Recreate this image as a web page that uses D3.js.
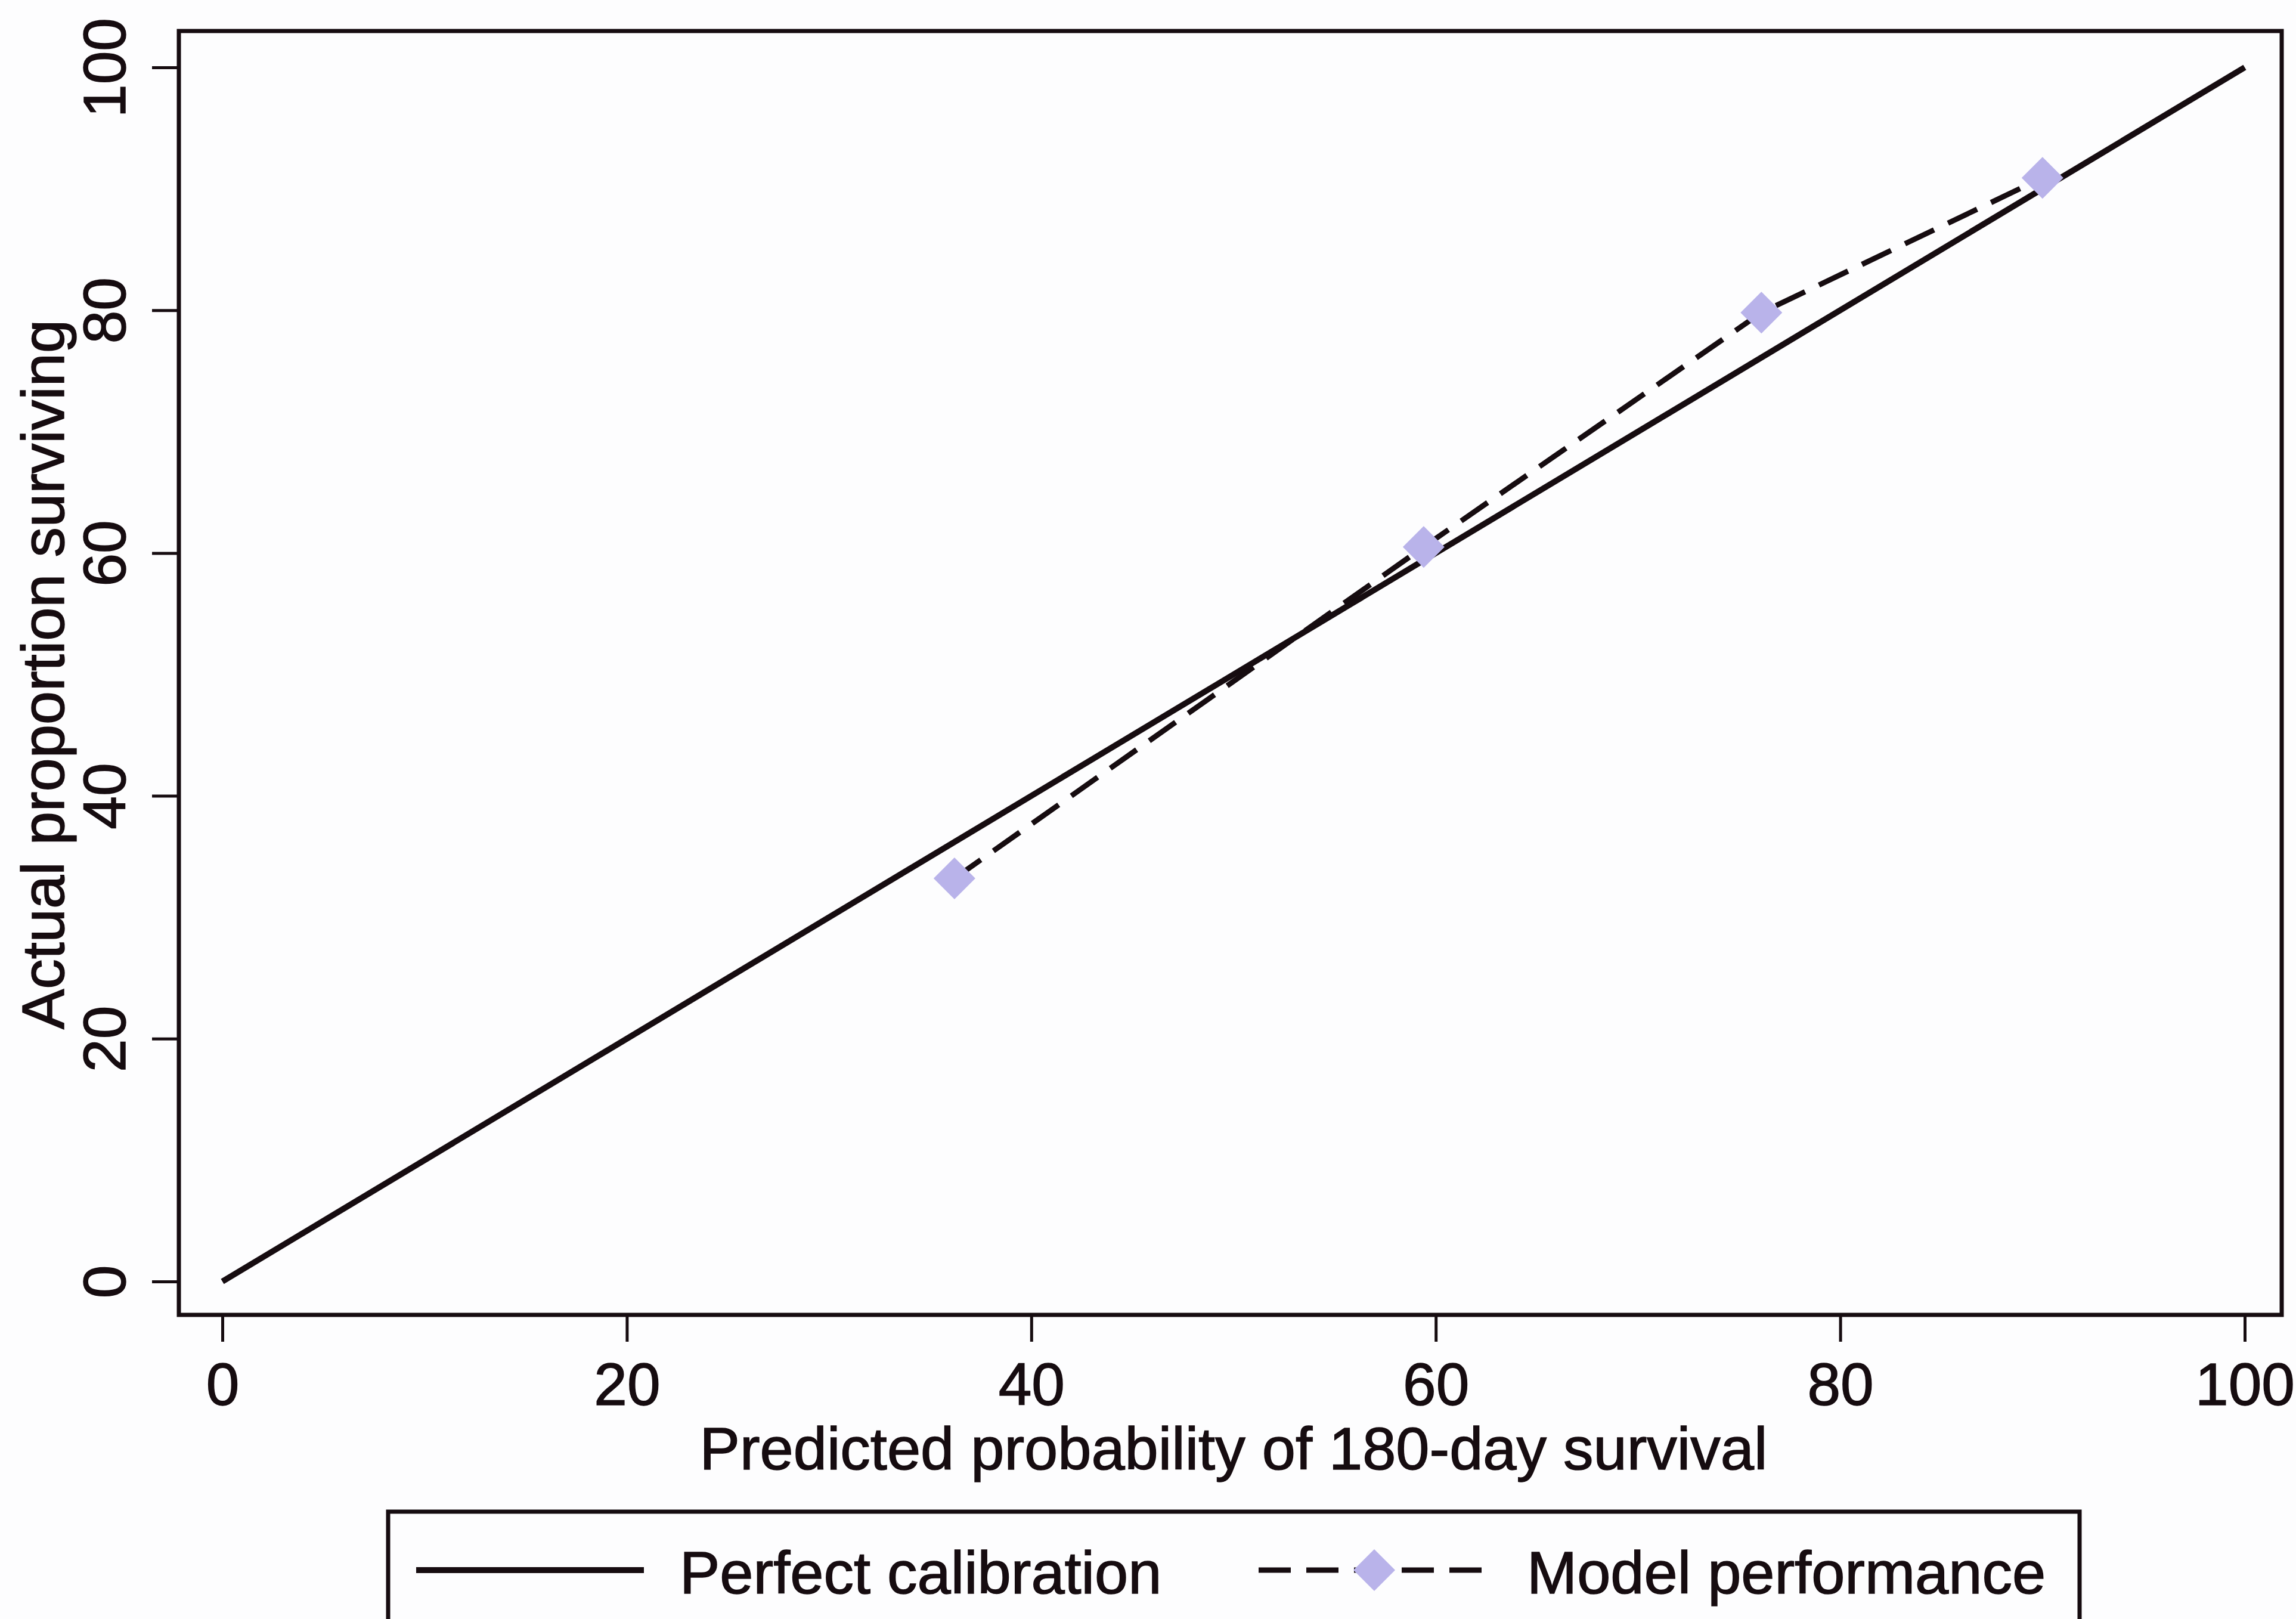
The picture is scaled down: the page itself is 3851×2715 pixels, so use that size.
<!DOCTYPE html>
<html>
<head>
<meta charset="utf-8">
<script src="https://cdn.jsdelivr.net/npm/d3@7"></script>
<style>
  body { margin: 0; background: #fdfdfe; }
  text { font-family: "Liberation Sans", Arial, sans-serif; fill: #160c10; stroke: #160c10; stroke-width: 1.5px; }
</style>
</head>
<body>
<script>
// Set SVG width and height
var width = 3851,
    height = 2715;

// Data
const predicted = [36.2, 59.4, 76.1, 90.0];
const actual = [33.2, 60.5, 79.8, 90.9];
const perfect = [0, 100];
const xTicks = [0, 20, 40, 60, 80, 100];
const yTicks = [0, 20, 40, 60, 80, 100];
const legendLabels = ["Perfect calibration", "Model performance"];

// Other constants
const ink = '#160c10';
const markerColor = '#b9b3ea';
const frame = { left: 300, top: 52, right: 3827, bottom: 2205 };
const tickLen = 45;

var svg = d3.select('body').append('svg')
    .attr('width', width)
    .attr('height', height);

svg.append('rect')
    .attr('width', width)
    .attr('height', height)
    .attr('fill', '#fdfdfe');

// scales
var x = d3.scaleLinear().domain([0, 100]).range([373, 3765]);
var y = d3.scaleLinear().domain([0, 100]).range([2149, 113]);

/******* Axes ********/
var xAxis = svg.append('g')
    .attr('transform', 'translate(0,' + frame.bottom + ')')
    .call(d3.axisBottom(x).tickValues(xTicks).tickSize(tickLen).tickPadding(35));

xAxis.select('.domain').remove();
xAxis.selectAll('line').attr('stroke', ink).attr('stroke-width', 5);
xAxis.selectAll('text')
    .attr('font-size', 100)
    .attr('font-family', '"Liberation Sans", Arial, sans-serif')
    .attr('fill', ink);

var yAxis = svg.append('g')
    .attr('transform', 'translate(' + frame.left + ',0)')
    .call(d3.axisLeft(y).tickValues(yTicks).tickSize(tickLen));

yAxis.select('.domain').remove();
yAxis.selectAll('line').attr('stroke', ink).attr('stroke-width', 5);
yAxis.selectAll('text')
    .attr('x', null)
    .attr('dy', null)
    .attr('text-anchor', 'middle')
    .attr('transform', 'translate(-90,0) rotate(-90)')
    .attr('font-size', 100)
    .attr('font-family', '"Liberation Sans", Arial, sans-serif')
    .attr('fill', ink);

// plot frame
svg.append('rect')
    .attr('x', frame.left)
    .attr('y', frame.top)
    .attr('width', frame.right - frame.left)
    .attr('height', frame.bottom - frame.top)
    .attr('fill', 'none')
    .attr('stroke', ink)
    .attr('stroke-width', 7);

// axis titles
svg.append('text')
    .attr('x', (x(0) + x(100)) / 2)
    .attr('y', 2464)
    .attr('text-anchor', 'middle')
    .attr('font-size', 101)
    .text('Predicted probability of 180-day survival');

svg.append('text')
    .attr('transform', 'translate(107,' + (y(0) + y(100)) / 2 + ') rotate(-90)')
    .attr('text-anchor', 'middle')
    .attr('font-size', 101)
    .text('Actual proportion surviving');

/******* Lines ********/
var line = d3.line()
    .x(function(d) { return x(d[0]); })
    .y(function(d) { return y(d[1]); });

svg.append('path')
    .datum(perfect.map(function(d) { return [d, d]; }))
    .attr('d', line)
    .attr('fill', 'none')
    .attr('stroke', ink)
    .attr('stroke-width', 10);

var model = predicted.map(function(d, i) { return [d, actual[i]]; });

svg.append('path')
    .datum(model)
    .attr('d', line)
    .attr('fill', 'none')
    .attr('stroke', ink)
    .attr('stroke-width', 9)
    .attr('stroke-dasharray', '54,26');

var diamond = d3.symbol().type(d3.symbolSquare).size(2450);

svg.selectAll('.pt')
    .data(model)
    .enter()
    .append('path')
    .attr('class', 'pt')
    .attr('d', diamond)
    .attr('transform', function(d) { return 'translate(' + x(d[0]) + ',' + y(d[1]) + ') rotate(45)'; })
    .attr('fill', markerColor);

/******* Legend ********/
svg.append('rect')
    .attr('x', 651)
    .attr('y', 2535)
    .attr('width', 3488 - 651)
    .attr('height', 400)
    .attr('fill', 'none')
    .attr('stroke', ink)
    .attr('stroke-width', 7);

svg.append('line')
    .attr('x1', 698).attr('x2', 1080)
    .attr('y1', 2633).attr('y2', 2633)
    .attr('stroke', ink)
    .attr('stroke-width', 10);

svg.append('text')
    .attr('x', 1140)
    .attr('y', 2672)
    .attr('font-size', 101)
    .text(legendLabels[0]);

svg.append('line')
    .attr('x1', 2111).attr('x2', 2505)
    .attr('y1', 2633).attr('y2', 2633)
    .attr('stroke', ink)
    .attr('stroke-width', 9)
    .attr('stroke-dasharray', '54,26');

svg.append('path')
    .attr('d', diamond)
    .attr('transform', 'translate(2305,2633) rotate(45)')
    .attr('fill', markerColor);

svg.append('text')
    .attr('x', 2561)
    .attr('y', 2672)
    .attr('font-size', 101)
    .text(legendLabels[1]);
</script>
</body>
</html>
